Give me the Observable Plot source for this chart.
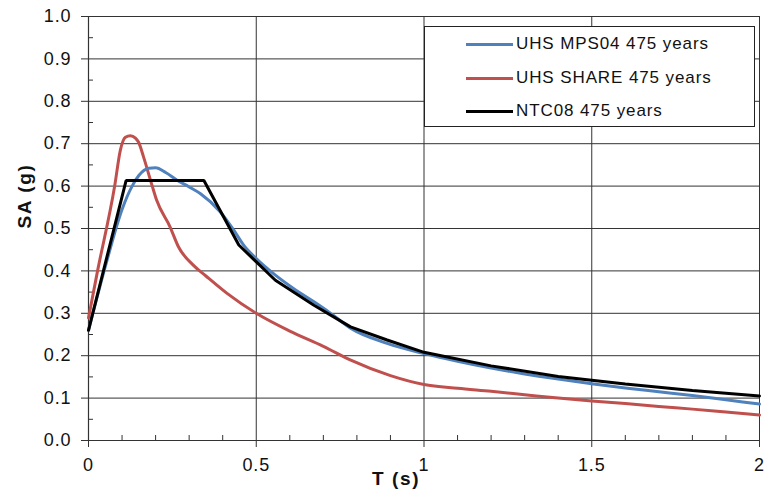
<!DOCTYPE html>
<html>
<head>
<meta charset="utf-8">
<script src="https://cdn.jsdelivr.net/npm/d3@7"></script>
<script src="https://cdn.jsdelivr.net/npm/@observablehq/plot@0.6"></script>
<style>
  html, body { margin: 0; padding: 0; background: #fff; }
  #wrap { position: relative; width: 764px; height: 494px; font-family: Arial, "Liberation Sans", sans-serif; }
  #wrap svg text { letter-spacing: 0.9px; }
  #wrap svg text.ttl { letter-spacing: 1.6px; }
  #legend { position: absolute; left: 424px; top: 26px; width: 331px; height: 101px; box-sizing: border-box;
            border: 1.5px solid #222; background: #fff; }
  .row { position: absolute; left: 0; height: 20px; display: flex; align-items: center; }
  .sw { width: 47px; height: 3px; margin-left: 41px; margin-right: 3px; }
  .lb { font-size: 17px; color: #111; letter-spacing: 0.9px; white-space: pre; }
</style>
</head>
<body>
<div id="wrap"><div id="legend"></div></div>
<script>
// ---- data ----
const seriesNames = ["UHS MPS04 475 years", "UHS SHARE 475 years", "NTC08 475 years"];
const seriesColors = ["#4F81BD", "#C0504D", "#000000"];

const tMPS04  = [0, 0.05, 0.10, 0.13, 0.15, 0.18, 0.20, 0.23, 0.264, 0.30, 0.334, 0.393, 0.433, 0.463, 0.50, 0.557, 0.612, 0.672, 0.72, 0.781, 0.89, 1.0, 1.1, 1.2, 1.3, 1.4, 1.5, 1.6, 1.7, 1.8, 1.9, 2.0];
const saMPS04 = [0.26, 0.41, 0.545, 0.60, 0.625, 0.642, 0.643, 0.632, 0.614, 0.598, 0.582, 0.539, 0.496, 0.46, 0.429, 0.39, 0.358, 0.327, 0.301, 0.265, 0.229, 0.205, 0.187, 0.171, 0.157, 0.145, 0.134, 0.124, 0.115, 0.106, 0.096, 0.086];

const tSHARE  = [0, 0.026, 0.078, 0.095, 0.11, 0.125, 0.14, 0.149, 0.164, 0.19, 0.203, 0.243, 0.268, 0.313, 0.35, 0.413, 0.5, 0.6, 0.7, 0.78, 0.9, 1.0, 1.1, 1.2, 1.3, 1.4, 1.5, 1.6, 1.7, 1.8, 1.9, 2.0];
const saSHARE = [0.289, 0.396, 0.60, 0.685, 0.715, 0.719, 0.713, 0.704, 0.669, 0.60, 0.567, 0.504, 0.457, 0.413, 0.388, 0.347, 0.30, 0.258, 0.222, 0.19, 0.153, 0.132, 0.123, 0.116, 0.108, 0.100, 0.093, 0.087, 0.080, 0.074, 0.067, 0.060];

const tNTC08  = [0, 0.112, 0.344, 0.448, 0.557, 0.672, 0.781, 0.89, 1.0, 1.2, 1.4, 1.6, 1.8, 2.0];
const saNTC08 = [0.26, 0.613, 0.613, 0.461, 0.378, 0.319, 0.268, 0.237, 0.208, 0.176, 0.151, 0.133, 0.118, 0.105];

const xTicks = [0, 0.5, 1, 1.5, 2];
const xTickLabels = ["0", "0.5", "1", "1.5", "2"];
const yTicks = [0, 0.1, 0.2, 0.3, 0.4, 0.5, 0.6, 0.7, 0.8, 0.9, 1.0];
const yTickLabels = ["0.0", "0.1", "0.2", "0.3", "0.4", "0.5", "0.6", "0.7", "0.8", "0.9", "1.0"];
const xMinor = [0.1, 0.2, 0.3, 0.4, 0.6, 0.7, 0.8, 0.9, 1.1, 1.2, 1.3, 1.4, 1.6, 1.7, 1.8, 1.9];
const yMinor = [0.05, 0.15, 0.25, 0.35, 0.45, 0.55, 0.65, 0.75, 0.85, 0.95];
const xTitle = "T (s)";
const yTitle = "SA (g)";

// ---- build tables ----
const mk = (ts, ss) => ts.map((t, i) => ({T: t, SA: ss[i]}));
const dMPS = mk(tMPS04, saMPS04);
const dSHARE = mk(tSHARE, saSHARE);
const dNTC = mk(tNTC08, saNTC08);

const gridColor = "#333";
const chart = Plot.plot({
  width: 764,
  height: 494,
  marginLeft: 88,
  marginRight: 5,
  marginTop: 16,
  marginBottom: 54,
  style: { fontFamily: "Arial, 'Liberation Sans', sans-serif", fontSize: "18px", color: "#111", background: "#fff" },
  x: { domain: [0, 2] },
  y: { domain: [0, 1] },
  marks: [
    Plot.gridY(yTicks, { stroke: gridColor, strokeOpacity: 1, strokeWidth: 1 }),
    Plot.gridX(xTicks, { stroke: gridColor, strokeOpacity: 1, strokeWidth: 1 }),
    Plot.axisY(yTicks, { anchor: "left", tickSize: 7, tickPadding: 10, stroke: gridColor, fontSize: 18,
      tickFormat: d => yTickLabels[yTicks.indexOf(d)], label: null }),
    Plot.axisX(xTicks, { anchor: "bottom", tickSize: 7, tickPadding: 11, stroke: gridColor, fontSize: 18,
      tickFormat: d => xTickLabels[xTicks.indexOf(d)], label: null }),
    Plot.axisX(xMinor, { anchor: "bottom", tickSize: 5, dy: -5, stroke: gridColor, tickFormat: () => "", label: null }),
    Plot.axisY(yMinor, { anchor: "left", tickSize: 5, dx: 5, stroke: gridColor, tickFormat: () => "", label: null }),
    Plot.ruleX([0], { stroke: gridColor, strokeWidth: 1.2 }),
    Plot.ruleY([0], { stroke: gridColor, strokeWidth: 1.2 }),
    Plot.line(dSHARE, { x: "T", y: "SA", stroke: seriesColors[1], strokeWidth: 3, curve: "monotone-x" }),
    Plot.line(dMPS, { x: "T", y: "SA", stroke: seriesColors[0], strokeWidth: 3, curve: "monotone-x" }),
    Plot.line(dNTC, { x: "T", y: "SA", stroke: seriesColors[2], strokeWidth: 3, curve: "linear", strokeLinejoin: "miter" }),
    Plot.text([yTitle], { text: d => d, frameAnchor: "left", dx: -64, rotate: -90, fontWeight: "bold", fontSize: 19, fill: "#111", className: "ttl" }),
    Plot.text([xTitle], { text: d => d, frameAnchor: "bottom", dx: -28, dy: 44, fontWeight: "bold", fontSize: 19, fill: "#111", className: "ttl" })
  ]
});
document.getElementById("wrap").insertBefore(chart, document.getElementById("legend"));
chart.querySelectorAll("g.ttl text").forEach(t => t.classList.add("ttl"));

// ---- legend ----
const legend = document.getElementById("legend");
const rowTops = [7, 41, 74];
seriesNames.forEach((name, i) => {
  const row = document.createElement("div");
  row.className = "row";
  row.style.top = rowTops[i] + "px";
  const sw = document.createElement("div");
  sw.className = "sw";
  sw.style.background = seriesColors[i];
  const lb = document.createElement("span");
  lb.className = "lb";
  lb.textContent = name;
  row.appendChild(sw);
  row.appendChild(lb);
  legend.appendChild(row);
});
</script>
</body>
</html>
